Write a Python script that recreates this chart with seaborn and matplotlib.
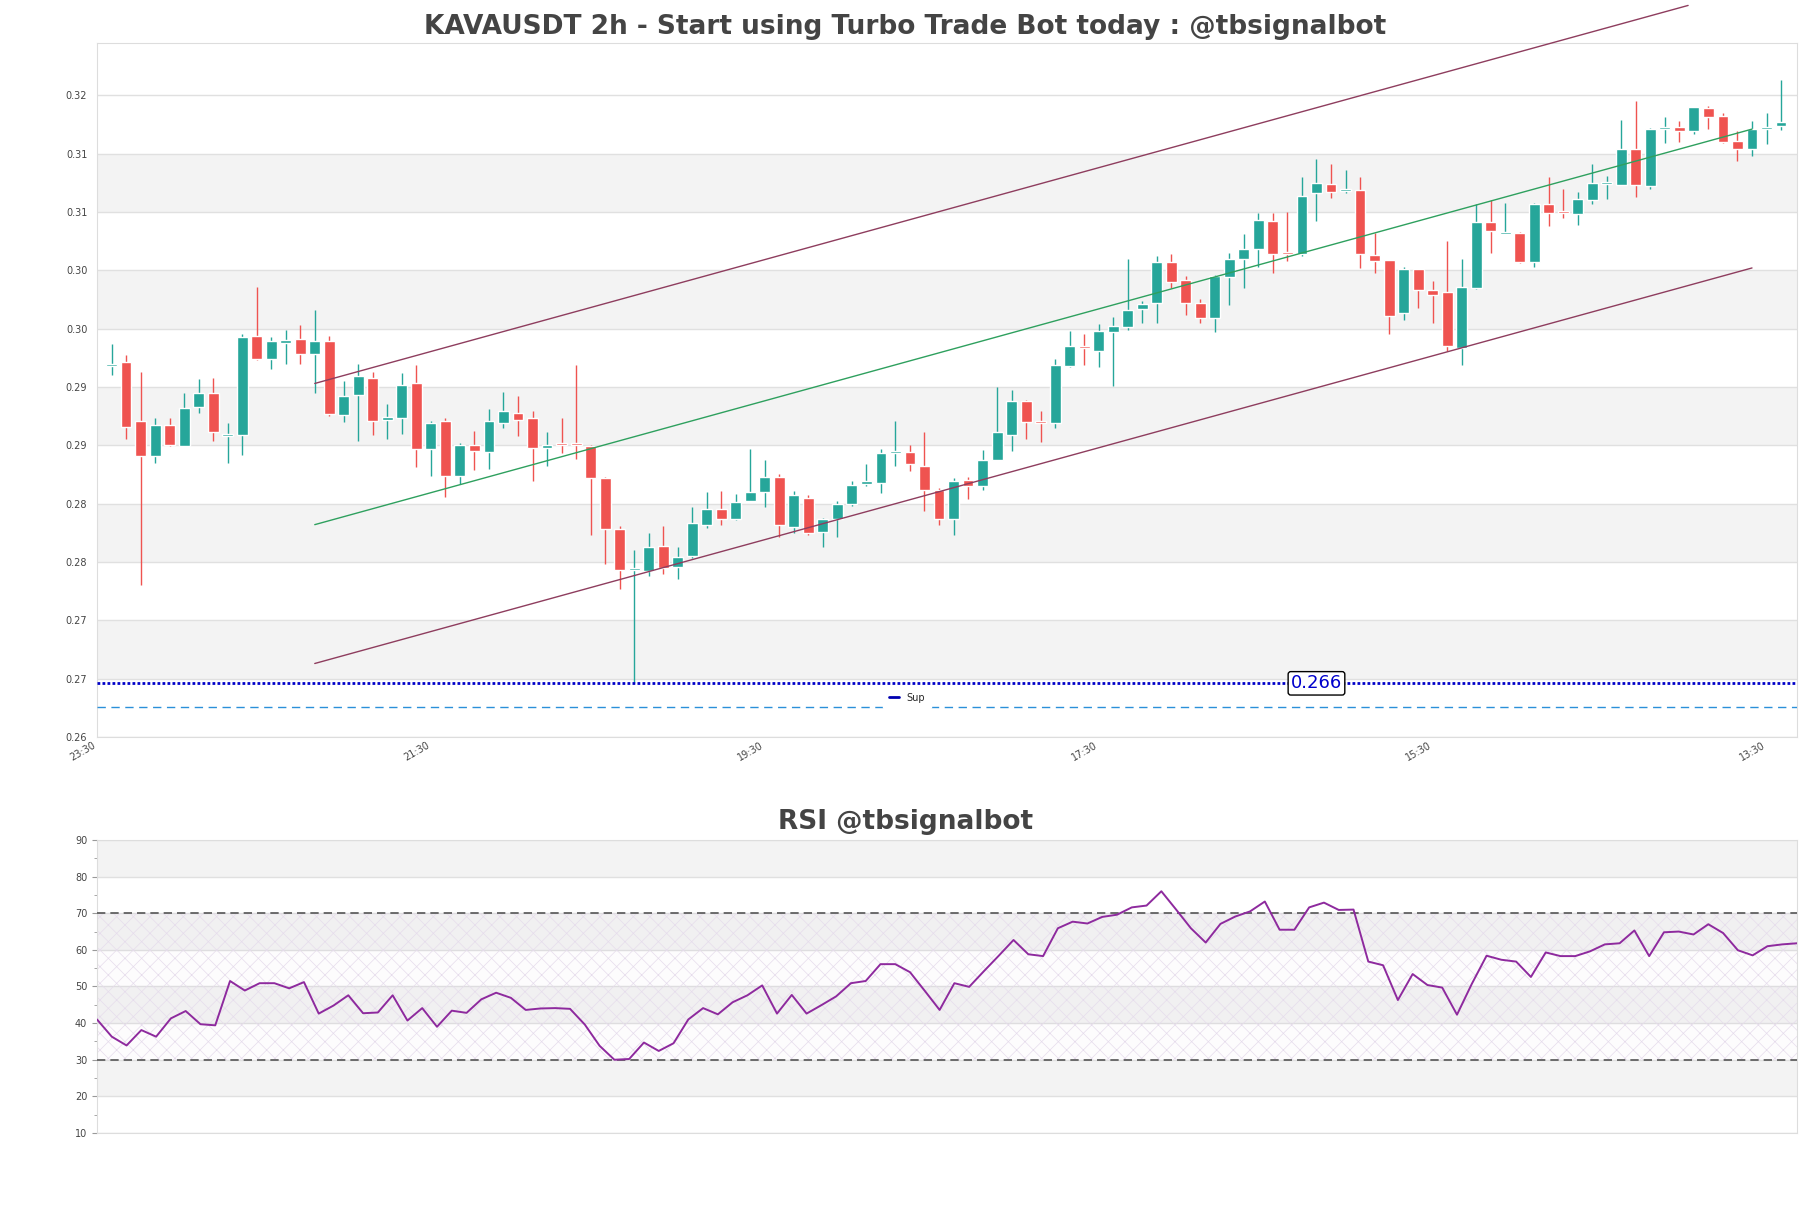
import numpy as np
import pandas as pd
import matplotlib
matplotlib.use('Agg')
import matplotlib.pyplot as plt
from matplotlib.lines import Line2D
from matplotlib.ticker import MultipleLocator
import seaborn as sns

# candles, oldest first (2h)
opens = [0.2932, 0.2935, 0.2885, 0.2855, 0.2881, 0.2863, 0.2897, 0.2909, 0.2872, 0.2873,
         0.2958, 0.2938, 0.2952, 0.2955, 0.2942, 0.2953, 0.2890, 0.2907, 0.2922, 0.2886,
         0.2887, 0.2917, 0.2861, 0.2885, 0.2838, 0.2864, 0.2858, 0.2883, 0.2892, 0.2887,
         0.2862, 0.2866, 0.2866, 0.2863, 0.2836, 0.2792, 0.2757, 0.2756, 0.2778, 0.2760,
         0.2769, 0.2796, 0.2809, 0.2801, 0.2816, 0.2824, 0.2837, 0.2794, 0.2819, 0.2790,
         0.2801, 0.2814, 0.2831, 0.2832, 0.2857, 0.2858, 0.2846, 0.2826, 0.2801, 0.2834,
         0.2829, 0.2851, 0.2873, 0.2902, 0.2885, 0.2883, 0.2932, 0.2949, 0.2945, 0.2961,
         0.2965, 0.2981, 0.2986, 0.3021, 0.3006, 0.2986, 0.2973, 0.3008, 0.3024, 0.3032,
         0.3056, 0.3030, 0.3028, 0.3080, 0.3088, 0.3082, 0.3083, 0.3027, 0.3023, 0.2977,
         0.3015, 0.2997, 0.2995, 0.2947, 0.2999, 0.3055, 0.3045, 0.3046, 0.3021, 0.3071,
         0.3065, 0.3062, 0.3074, 0.3088, 0.3087, 0.3118, 0.3086, 0.3135, 0.3137, 0.3133,
         0.3153, 0.3146, 0.3125, 0.3118, 0.3135, 0.3138]
highs = [0.2951, 0.2941, 0.2927, 0.2887, 0.2887, 0.2909, 0.2921, 0.2922, 0.2883, 0.2959,
         0.3000, 0.2957, 0.2963, 0.2967, 0.2980, 0.2958, 0.2919, 0.2934, 0.2927, 0.2899,
         0.2926, 0.2933, 0.2885, 0.2887, 0.2866, 0.2876, 0.2895, 0.2910, 0.2906, 0.2893,
         0.2875, 0.2887, 0.2933, 0.2864, 0.2837, 0.2795, 0.2774, 0.2789, 0.2795, 0.2777,
         0.2811, 0.2824, 0.2825, 0.2822, 0.2861, 0.2851, 0.2839, 0.2825, 0.2821, 0.2802,
         0.2816, 0.2833, 0.2848, 0.2861, 0.2885, 0.2864, 0.2875, 0.2827, 0.2836, 0.2837,
         0.2860, 0.2914, 0.2911, 0.2903, 0.2893, 0.2938, 0.2962, 0.2959, 0.2968, 0.2974,
         0.3024, 0.2988, 0.3026, 0.3028, 0.3009, 0.2989, 0.3010, 0.3029, 0.3045, 0.3063,
         0.3063, 0.3064, 0.3094, 0.3109, 0.3105, 0.3100, 0.3094, 0.3046, 0.3023, 0.3017,
         0.3015, 0.3005, 0.3039, 0.3024, 0.3071, 0.3074, 0.3072, 0.3047, 0.3072, 0.3094,
         0.3084, 0.3081, 0.3105, 0.3095, 0.3143, 0.3159, 0.3136, 0.3145, 0.3142, 0.3154,
         0.3155, 0.3149, 0.3133, 0.3142, 0.3149, 0.3177]
lows = [0.2924, 0.2869, 0.2744, 0.2849, 0.2863, 0.2863, 0.2892, 0.2868, 0.2849, 0.2856,
        0.2937, 0.2929, 0.2934, 0.2934, 0.2909, 0.2889, 0.2884, 0.2868, 0.2873, 0.2869,
        0.2874, 0.2845, 0.2838, 0.2820, 0.2831, 0.2843, 0.2844, 0.2879, 0.2872, 0.2833,
        0.2846, 0.2857, 0.2852, 0.2787, 0.2762, 0.2741, 0.2660, 0.2752, 0.2754, 0.2749,
        0.2767, 0.2793, 0.2796, 0.2800, 0.2816, 0.2811, 0.2785, 0.2789, 0.2787, 0.2777,
        0.2785, 0.2812, 0.2829, 0.2823, 0.2846, 0.2842, 0.2808, 0.2796, 0.2787, 0.2818,
        0.2826, 0.2851, 0.2859, 0.2869, 0.2867, 0.2879, 0.2931, 0.2933, 0.2931, 0.2915,
        0.2963, 0.2969, 0.2969, 0.2999, 0.2976, 0.2969, 0.2961, 0.2984, 0.2999, 0.3017,
        0.3012, 0.3022, 0.3026, 0.3056, 0.3076, 0.3080, 0.3016, 0.3012, 0.2959, 0.2971,
        0.2982, 0.2969, 0.2945, 0.2933, 0.2998, 0.3029, 0.3045, 0.3020, 0.3017, 0.3052,
        0.3059, 0.3053, 0.3071, 0.3075, 0.3087, 0.3077, 0.3084, 0.3123, 0.3124, 0.3131,
        0.3135, 0.3123, 0.3108, 0.3112, 0.3122, 0.3134]
closes = [0.2934, 0.2880, 0.2855, 0.2881, 0.2864, 0.2896, 0.2909, 0.2875, 0.2874, 0.2957,
          0.2938, 0.2953, 0.2954, 0.2942, 0.2953, 0.2891, 0.2906, 0.2923, 0.2885, 0.2888,
          0.2916, 0.2861, 0.2883, 0.2838, 0.2864, 0.2859, 0.2885, 0.2893, 0.2886, 0.2862,
          0.2864, 0.2864, 0.2864, 0.2836, 0.2792, 0.2757, 0.2759, 0.2777, 0.2759, 0.2768,
          0.2797, 0.2809, 0.2801, 0.2815, 0.2824, 0.2837, 0.2796, 0.2821, 0.2789, 0.2801,
          0.2814, 0.2830, 0.2833, 0.2857, 0.2859, 0.2848, 0.2826, 0.2801, 0.2833, 0.2829,
          0.2851, 0.2875, 0.2902, 0.2884, 0.2883, 0.2933, 0.2949, 0.2947, 0.2962, 0.2966,
          0.2980, 0.2985, 0.3021, 0.3004, 0.2986, 0.2973, 0.3009, 0.3024, 0.3032, 0.3057,
          0.3028, 0.3028, 0.3078, 0.3089, 0.3081, 0.3084, 0.3028, 0.3022, 0.2975, 0.3015,
          0.2997, 0.2993, 0.2949, 0.3000, 0.3055, 0.3048, 0.3047, 0.3021, 0.3071, 0.3063,
          0.3063, 0.3075, 0.3089, 0.3090, 0.3118, 0.3087, 0.3135, 0.3137, 0.3133, 0.3154,
          0.3145, 0.3124, 0.3118, 0.3135, 0.3137, 0.3141]

rsi = [41.0, 36.3, 33.9, 38.1, 36.3, 41.3, 43.3, 39.7, 39.4, 51.5,
       48.9, 50.9, 50.9, 49.5, 51.2, 42.6, 44.8, 47.6, 42.7, 42.9,
       47.6, 40.7, 44.1, 39.0, 43.4, 42.8, 46.5, 48.3, 46.9, 43.6,
       44.0, 44.1, 43.9, 39.6, 33.8, 30.0, 30.2, 34.7, 32.4, 34.5,
       41.0, 44.1, 42.4, 45.7, 47.6, 50.3, 42.6, 47.7, 42.6, 44.9,
       47.3, 50.9, 51.5, 56.1, 56.1, 53.9, 48.8, 43.6, 50.9, 49.9,
       54.2, 58.4, 62.7, 58.8, 58.3, 65.9, 67.7, 67.2, 69.0, 69.6,
       71.6, 72.1, 76.0, 71.0, 65.9, 62.0, 67.1, 69.1, 70.5, 73.2,
       65.5, 65.5, 71.6, 72.9, 70.9, 71.0, 56.8, 55.8, 46.3, 53.4,
       50.4, 49.7, 42.3, 50.7, 58.4, 57.3, 56.8, 52.6, 59.3, 58.3,
       58.3, 59.6, 61.5, 61.8, 65.3, 58.3, 64.8, 65.0, 64.2, 67.0,
       64.6, 59.9, 58.5, 61.0, 61.5, 61.8]

time_labels = ['23:30', '21:30', '19:30', '17:30', '15:30', '13:30']
time_label_pos = [0, 23, 46, 69, 92, 115]

# regression channel
chan_x = [15, 114]
chan_upper_x = [15, 109.6]
chan_upper = [0.2917, 0.3241]
chan_mid = [0.2796, 0.3135]
chan_lower = [0.2677, 0.3016]

support = 0.266
support_label_x = 84
band_low = 0.2640

title = 'KAVAUSDT 2h - Start using Turbo Trade Bot today : @tbsignalbot'

sns.set_style('white')
plt.rcParams['font.family'] = ['DejaVu Sans']
plt.rcParams['hatch.linewidth'] = 0.5

fig = plt.figure(figsize=(18.11, 12.08), dpi=100)
ax = fig.add_axes([0.05356, 0.3899, 0.93871, 0.5745])
ax2 = fig.add_axes([0.05356, 0.06209, 0.93871, 0.24255])

GREEN, RED = '#26a69a', '#ef5350'
BAND = '#f3f3f3'

df = pd.DataFrame({'o': opens, 'h': highs, 'l': lows, 'c': closes})
df['x'] = np.arange(1, len(df) + 1)
colors = np.where(df['c'] >= df['o'], GREEN, RED)
body = (df['c'] - df['o']).abs().clip(lower=0.00018)
mid = (df['c'] + df['o']) / 2
ax.vlines(df['x'], df['l'], df['h'], colors=colors, lw=1, zorder=3)
ax.bar(df['x'], body, bottom=mid - body / 2, width=0.75, color=colors, zorder=4)

# y grid / bands
yticks = 0.2614 + 0.005 * np.arange(12)
ax.set_ylim(0.2614, 0.32088)
ax.set_xlim(0, 117.1)
ax.set_yticks(yticks)
ax.set_yticklabels(['%.2f' % v for v in yticks])
for k in range(1, 11, 2):
    ax.axhspan(yticks[k], yticks[k + 1], color=BAND, zorder=0, lw=0)
ax.yaxis.grid(True, color='#e0e0e0', lw=1)
ax.set_axisbelow(True)
ax.set_xticks(time_label_pos)
ax.set_xticklabels(time_labels, rotation=30, ha='right')
ax.tick_params(axis='both', length=0, labelsize=7, labelcolor='#444444')
ax.tick_params(axis='y', pad=7)
ax.tick_params(axis='x', pad=2)
for s in ax.spines.values():
    s.set_color('#dddddd')

# channel lines
ax.plot(chan_upper_x, chan_upper, color='#8e3d5e', lw=1, clip_on=False, zorder=5)
ax.plot(chan_x, chan_lower, color='#8e3d5e', lw=1, zorder=5)
ax.plot(chan_x, chan_mid, color='#2ea05e', lw=1, zorder=5)

# support
ax.axhline(support, color='#0000c8', lw=2, ls=(0, (1, 0.8)), zorder=5)
ax.axhline(band_low, color='#2b90d9', lw=1, ls=(0, (6, 4)), zorder=5)
ax.text(support_label_x, support, '%.3f' % support, color='#0000cc', fontsize=13,
        ha='center', va='center', zorder=7,
        bbox=dict(boxstyle='round,pad=0.15', fc='white', ec='black', lw=1))
fig.legend([Line2D([], [], color='#0000b0', lw=2)], ['Sup'], loc='center',
           bbox_to_anchor=(0.5008, 0.4225), fontsize=7, handlelength=1,
           frameon=True, facecolor='white', edgecolor='white', framealpha=1,
           borderpad=0.6)

fig.text(0.5, 0.9719, title, ha='center', va='baseline', fontsize=19,
         fontweight='bold', color='#444444')

# RSI panel
rx = np.arange(len(rsi))
ax2.set_xlim(0, len(rsi) - 1)
ax2.set_ylim(10, 90)
for lo in [20, 40, 60, 80]:
    ax2.axhspan(lo, lo + 10, color=BAND, zorder=0, lw=0)
ax2.fill_between([0, len(rsi) - 1], 30, 70, facecolor=(0.55, 0.35, 0.7, 0.015),
                 hatch='xx', edgecolor='#e6dcec', lw=0, zorder=1)
ax2.yaxis.grid(True, color='#e0e0e0', lw=1)
ax2.set_axisbelow(True)
ax2.axhline(70, color='#555555', lw=1.2, ls=(0, (5, 3)), zorder=3)
ax2.axhline(30, color='#555555', lw=1.2, ls=(0, (5, 3)), zorder=3)
sns.lineplot(x=rx, y=rsi, ax=ax2, color='#8e2a9e', lw=1.4, zorder=4)
ax2.set_yticks(np.arange(10, 91, 10))
ax2.yaxis.set_minor_locator(MultipleLocator(5))
ax2.set_xticks([])
ax2.tick_params(axis='y', which='major', length=3.5, color='#999999', labelsize=7,
                labelcolor='#444444', left=True)
ax2.tick_params(axis='y', which='minor', length=2, color='#999999', left=True)
for s in ax2.spines.values():
    s.set_color('#dddddd')

fig.text(0.5, 0.3137, 'RSI @tbsignalbot', ha='center', va='baseline', fontsize=19,
         fontweight='bold', color='#444444')

fig.savefig('out.png', dpi=100)
